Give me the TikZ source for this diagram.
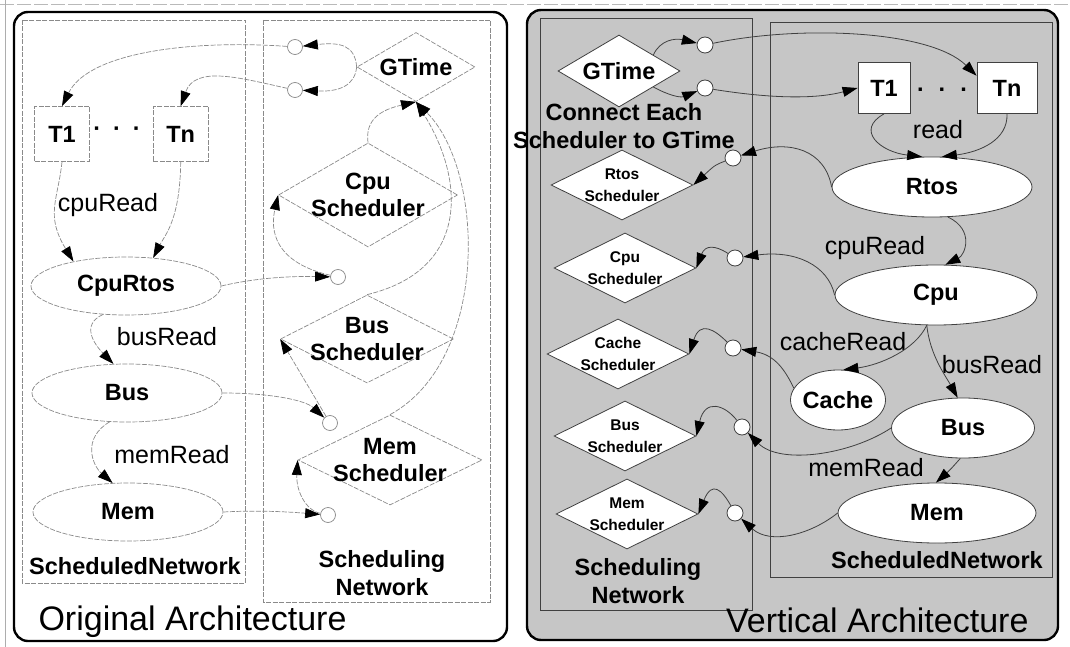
\documentclass[tikz,border=0pt]{standalone}
\usepackage{fontspec}
\setmainfont{Liberation Sans}
\usepackage{xcolor}
\definecolor{scangray}{HTML}{8A8A8A}
\definecolor{panelgray}{HTML}{C6C6C6}
\usepackage{tikz}
\usetikzlibrary{shapes.geometric,arrows.meta,positioning}

\begin{document}
\begin{tikzpicture}[
        x=1pt, y=-1pt,
        archtitle/.style={font=\fontsize{34}{40}\selectfont},
        edgetext/.style={font=\fontsize{25}{28}\selectfont},
        boldtext/.style={font=\fontsize{23.5}{27.5}\selectfont\bfseries, align=center},
        smalltext/.style={font=\fontsize{15.5}{22}\selectfont\bfseries, align=center},
        panel/.style={draw=black, line width=2.4pt, rounded corners=14pt},
        origline/.style={draw=scangray, line width=0.7pt, dash pattern=on 5pt off 1.5pt},
        origtask/.style={origline, rectangle, minimum width=55pt, minimum height=55pt, inner sep=0pt, boldtext},
        origproc/.style={origline, ellipse, minimum width=190pt, minimum height=58pt, inner sep=0pt, boldtext},
        origsched/.style={origline, diamond, inner sep=0pt},
        origport/.style={draw=scangray, line width=0.7pt, circle, fill=white, minimum size=15pt, inner sep=0pt},
        origflow/.style={origline, -{Triangle[length=15pt,width=10pt,color=black]}},
        vertline/.style={draw=black!75, line width=0.8pt},
        verttask/.style={vertline, fill=white, rectangle, minimum height=51pt, inner sep=0pt, boldtext},
        vertproc/.style={vertline, fill=white, ellipse, minimum height=60pt, inner sep=0pt, boldtext},
        vertsched/.style={vertline, fill=white, diamond, minimum width=142pt, minimum height=70pt, inner sep=0pt},
        vertport/.style={vertline, circle, fill=white, minimum size=16pt, inner sep=0pt},
        vertflow/.style={vertline, -{Triangle[length=15pt,width=10pt,color=black]}}
    ]
    \useasboundingbox (0,0) rectangle (1070,647);
    \draw[scangray!60, dash pattern=on 14pt off 3pt] (0,4) -- (1070,4);
    \draw[scangray!70, line width=0.6pt] (5,0) -- (5,647);

    % original architecture
    \draw[panel] (14,12) rectangle (507,641);
    \draw[origline] (22,20) rectangle (245,583);
    \draw[origline] (263,20) rectangle (490,602);
    \node[archtitle, anchor=base west] (origtitle) at (35,630) {Original Architecture};

    \node[origtask] (t1) at (62,134) {T1};
    \node[origtask, right=63pt of t1] (tn) {Tn};
    \node[boldtext] (taskdots) at (117,132) {·\hspace{12pt}·\hspace{12pt}·};
    \node[origproc] (cpurtos) at (126,286) {CpuRtos};
    \node[origproc] (bus) at (127,393) {Bus};
    \node[origproc] (mem) at (128,512) {Mem};
    \node[edgetext] (cpuread) at (108,205) {cpuRead};
    \node[edgetext] (busread) at (167,337) {busRead};
    \node[edgetext] (memread) at (172,455) {memRead};
    \node[boldtext] (schednet) at (135,566) {ScheduledNetwork};

    \node[origsched, minimum width=118pt, minimum height=69pt, label={[boldtext]center:GTime}] (gtime) at (416,67) {};
    \node[origsched, minimum width=179pt, minimum height=104pt, label={[boldtext]center:Cpu\\Scheduler}] (cpusched) at (368,195) {};
    \node[origsched, minimum width=173pt, minimum height=88pt, label={[boldtext]center:Bus\\Scheduler}] (bussched) at (367,339) {};
    \node[origsched, minimum width=184pt, minimum height=90pt, label={[boldtext]center:Mem\\Scheduler}] (memsched) at (390,460) {};
    \node[boldtext] (schedingnet) at (382,573) {Scheduling\\Network};

    \node[origport] (portg1) at (295,47) {};
    \node[origport] (portg2) at (295,90) {};
    \node[origport] (portc) at (338,277) {};
    \node[origport] (portb) at (330,423) {};
    \node[origport] (portm) at (328,515) {};

    \draw[origflow] (t1.south) .. controls (58,200) and (45,215) .. (cpurtos.155);
    \draw[origflow] (tn.south) .. controls (180,220) and (165,235) .. (cpurtos.46);
    \draw[origflow] (cpurtos.231) .. controls (80,325) and (95,345) .. (bus.115);
    \draw[origflow] (bus.239) .. controls (82,438) and (92,465) .. (mem.118);
    \draw[origflow] (cpurtos.east) .. controls (255,278) and (290,276) .. (portc);
    \draw[origflow] (portc) .. controls (285,265) and (268,240) .. (cpusched.west);
    \draw[origflow] (cpusched.north) .. controls (365,120) and (380,110) .. (gtime.south);
    \draw[origflow] (bussched.north) .. controls (470,270) and (465,180) .. (gtime.south);
    \draw[origflow] (memsched.north) .. controls (490,360) and (485,170) .. (gtime.south);
    \draw[origflow] (bus.east) .. controls (270,393) and (305,400) .. (portb);
    \draw[origflow] (portb) -- (bussched.west);
    \draw[origflow] (mem.east) .. controls (260,510) and (290,512) .. (portm);
    \draw[origflow] (portm) .. controls (305,510) and (296,490) .. (memsched.west);
    \draw[origflow] (gtime.west) .. controls (355,45) and (340,42) .. (portg1);
    \draw[origflow] (gtime.west) .. controls (355,85) and (340,92) .. (portg2);
    \draw[origflow] (portg1) .. controls (200,40) and (90,50) .. (t1.north);
    \draw[origflow] (portg2) .. controls (240,78) and (195,65) .. (tn.north);

    % vertical architecture
    \draw[panel, fill=panelgray] (527,10) rectangle (1058,640);
    \draw[vertline] (540,18) rectangle (752,610);
    \draw[vertline] (770,22) rectangle (1052,577);
    \node[archtitle, anchor=base east] (verttitle) at (1032,632) {Vertical Architecture};

    \node[vertsched, minimum width=122pt, minimum height=72pt, label={[boldtext]center:GTime}] (gtimev) at (619,71) {};
    \node[boldtext] (connect) at (624,126) {Connect Each\\Scheduler to GTime};
    \node[vertsched, label={[smalltext]center:Rtos\\Scheduler}] (rtossched) at (622,185) {};
    \node[vertsched, label={[smalltext]center:Cpu\\Scheduler}] (cpuschedv) at (625,268) {};
    \node[vertsched, label={[smalltext]center:Cache\\Scheduler}] (cachesched) at (618,354) {};
    \node[vertsched, label={[smalltext]center:Bus\\Scheduler}] (busschedv) at (625,436) {};
    \node[vertsched, label={[smalltext]center:Mem\\Scheduler}] (memschedv) at (627,514) {};
    \node[boldtext] (schedingnetv) at (638,581) {Scheduling\\Network};

    \node[verttask, minimum width=52pt] (t1v) at (884,88) {T1};
    \node[verttask, minimum width=60pt] (tnv) at (1007,88) {Tn};
    \node[boldtext] (taskdotsv) at (942,90) {.\hspace{15pt}.\hspace{15pt}.};
    \node[edgetext] (readv) at (938,130) {read};
    \node[vertproc, minimum width=200pt] (rtos) at (932,187) {Rtos};
    \node[edgetext] (cpureadv) at (875,248) {cpuRead};
    \node[vertproc, minimum width=202pt] (cpu) at (936,295) {Cpu};
    \node[edgetext] (cacheread) at (843,342) {cacheRead};
    \node[vertproc, minimum width=95pt, inner xsep=-3pt] (cache) at (838,400) {Cache};
    \node[edgetext] (busreadv) at (992,365) {busRead};
    \node[vertproc, minimum width=143pt] (busv) at (963,428) {Bus};
    \node[edgetext] (memreadv) at (866,468) {memRead};
    \node[vertproc, minimum width=198pt] (memv) at (937,513) {Mem};
    \node[boldtext] (schednetv) at (937,560) {ScheduledNetwork};

    \node[vertport] (vport1) at (705,45) {};
    \node[vertport] (vport2) at (705,88) {};
    \node[vertport] (vport3) at (733,158) {};
    \node[vertport] (vport4) at (735,258) {};
    \node[vertport] (vport5) at (733,348) {};
    \node[vertport] (vport6) at (742,427) {};
    \node[vertport] (vport7) at (735,513) {};

    \draw[vertflow] (gtimev.25) .. controls (660,40) and (675,38) .. (vport1);
    \draw[vertflow] (gtimev.-25) .. controls (668,95) and (680,98) .. (vport2);
    \draw[vertflow] (vport1) .. controls (800,25) and (930,30) .. (tnv.158);
    \draw[vertflow] (vport2) .. controls (780,100) and (820,98) .. (t1v.west);
    \draw[vertflow] (t1v.south) .. controls (855,130) and (880,152) .. (rtos.108);
    \draw[vertflow] (tnv.south) .. controls (1008,140) and (980,152) .. (rtos.72);
    \draw[vertflow] (rtos.298) .. controls (975,230) and (965,255) .. (cpu.73);
    \draw[vertflow] (cpu.253) .. controls (915,350) and (880,365) .. (cache.80);
    \draw[vertflow] (cpu.253) .. controls (930,355) and (945,375) .. (busv.100);
    \draw[vertflow] (busv.265) .. controls (950,470) .. (memv.92);
    \draw[vertflow] (rtos.west) .. controls (825,150) and (790,140) .. (vport3);
    \draw[vertflow] (vport3) .. controls (715,165) .. (rtossched.east);
    \draw[vertflow] (cpu.west) .. controls (828,265) and (795,250) .. (vport4);
    \draw[vertflow] (vport4) .. controls (715,245) and (705,245) .. (cpuschedv.east);
    \draw[vertflow] (cache.165) .. controls (785,370) and (775,355) .. (vport5);
    \draw[vertflow] (vport5) .. controls (715,330) and (700,320) .. (cachesched.east);
    \draw[vertflow] (busv.west) .. controls (850,455) and (780,465) .. (vport6);
    \draw[vertflow] (vport6) .. controls (725,405) and (705,398) .. (busschedv.east);
    \draw[vertflow] (memv.west) .. controls (810,535) and (770,545) .. (vport7);
    \draw[vertflow] (vport7) .. controls (722,490) and (712,480) .. (memschedv.east);
\end{tikzpicture}
\end{document}
